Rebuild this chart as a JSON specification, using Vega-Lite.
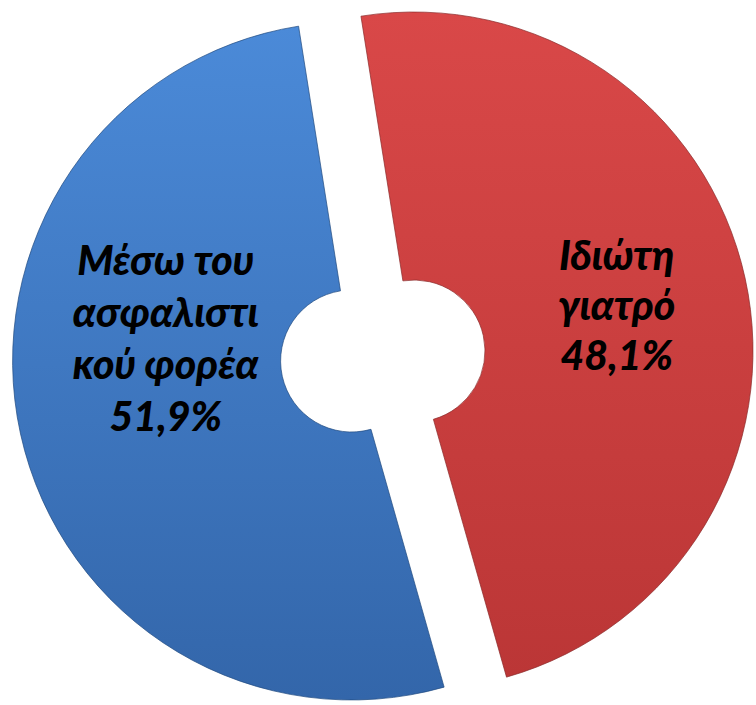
{
  "$schema": "https://vega.github.io/schema/vega-lite/v6.json",
  "width": 756,
  "height": 705,
  "padding": 0,
  "autosize": {"type": "none"},
  "background": "white",
  "view": {"stroke": null},
  "data": {
    "values": [
      {"label": "Ιδιώτη γιατρό", "value": 48.1, "lines": ["Ιδιώτη", "γιατρό", "48,1%"]},
      {"label": "Μέσω του ασφαλιστικού φορέα", "value": 51.9, "lines": ["Μέσω του", "ασφαλιστι", "κού φορέα", "51,9%"]}
    ]
  },
  "transform": [
    {"stack": "value", "groupby": [], "sort": [{"field": "label", "order": "ascending"}], "as": ["v0", "v1"]}
  ],
  "encoding": {
    "theta": {"field": "v0", "type": "quantitative", "scale": {"domain": [0, 100], "range": [-0.1571, 6.1261]}}
  },
  "layer": [
    {
      "transform": [{"filter": "datum.label === 'Ιδιώτη γιατρό'"}],
      "mark": {
        "type": "arc", "outerRadius": 339, "innerRadius": 71, "xOffset": 36, "yOffset": -1.5,
        "stroke": "#8a2a2a", "strokeWidth": 1, "strokeOpacity": 0.7,
        "fill": {"gradient": "linear", "x1": 0, "y1": 0, "x2": 0, "y2": 1,
          "stops": [{"offset": 0, "color": "#d94848"}, {"offset": 1, "color": "#bb3636"}]}
      },
      "encoding": {"theta2": {"field": "v1"}}
    },
    {
      "transform": [{"filter": "datum.label !== 'Ιδιώτη γιατρό'"}],
      "mark": {
        "type": "arc", "outerRadius": 339, "innerRadius": 71, "xOffset": -26.4, "yOffset": 8.5,
        "stroke": "#1f4a80", "strokeWidth": 1, "strokeOpacity": 0.7,
        "fill": {"gradient": "linear", "x1": 0, "y1": 0, "x2": 0, "y2": 1,
          "stops": [{"offset": 0, "color": "#4b8ad8"}, {"offset": 1, "color": "#3366aa"}]}
      },
      "encoding": {"theta2": {"field": "v1"}}
    },
    {
      "transform": [{"filter": "datum.label === 'Ιδιώτη γιατρό'"}],
      "mark": {
        "type": "text", "radius": 223, "thetaOffset": 1.298, "xOffset": 36, "yOffset": -1.5,
        "font": "Lato", "fontSize": 41, "fontWeight": 900, "fontStyle": "italic",
        "lineHeight": 50, "align": "center", "baseline": "middle", "color": "#000000"
      },
      "encoding": {"text": {"field": "lines"}}
    },
    {
      "transform": [{"filter": "datum.label !== 'Ιδιώτη γιατρό'"}],
      "mark": {
        "type": "text", "radius": 210, "thetaOffset": 2.332, "xOffset": -26.4, "yOffset": 8.5,
        "font": "Lato", "fontSize": 41, "fontWeight": 900, "fontStyle": "italic",
        "lineHeight": 52, "align": "center", "baseline": "middle", "color": "#000000"
      },
      "encoding": {"text": {"field": "lines"}}
    }
  ]
}
